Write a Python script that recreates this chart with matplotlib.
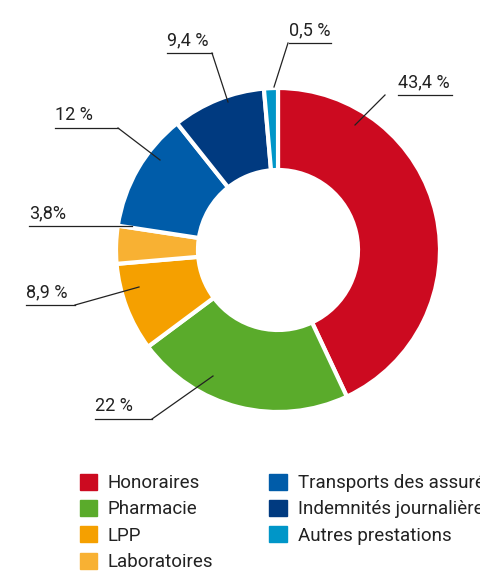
import matplotlib.pyplot as plt

plt.rcParams['font.family'] = ['Roboto', 'DejaVu Sans']

categories = ['Honoraires', 'Pharmacie', 'LPP', 'Laboratoires',
              'Transports des assurés', 'Indemnités journalières',
              'Autres prestations']
values = [43.4, 22, 8.9, 3.8, 12, 9.4, 0.5]
labels = ['43,4 %', '22 %', '8,9 %', '3,8%', '12 %', '9,4 %', '0,5 %']
colors = ['#cc0a20', '#5aab2b', '#f5a000', '#f8b133',
          '#005ca9', '#003a80', '#0096c8']

# leader lines in pixel coords: (text x, line y, line end x, knee x, anchor x, anchor y)
leaders = [
    (398, 95, 452, 385, 355, 125),
    (95, 419, 152, 152, 213, 376),
    (26, 305, 75, 75, 139, 287),
    (29, 226, 132, 132, 132, 226),
    (55, 128, 118, 118, 160, 160),
    (167, 53, 212, 212, 228, 102),
    (289, 43, 331, 288, 274, 87),
]

W, H = 480, 571
fig = plt.figure(figsize=(W / 100, H / 100), dpi=100)
ax = fig.add_axes([0, 0, 1, 1])


def py(y):
    return H - y


# tiny slices get a minimum visible width, like the original chart
draw_sizes = [max(v, 1.4) for v in values]

cx, cy, r_out, r_in = 278, 250, 162, 80
ax.pie(draw_sizes, colors=colors, startangle=90, counterclock=False,
       center=(cx, py(cy)), radius=r_out,
       wedgeprops=dict(width=r_out - r_in, edgecolor='white', linewidth=3))

for lab, (tx, ly, lx2, kx, ax_, ay) in zip(labels, leaders):
    ax.plot([tx, lx2], [py(ly), py(ly)], color='#222222', lw=0.9)
    ax.plot([kx, ax_], [py(ly), py(ay)], color='#222222', lw=0.9)
    ax.text(tx, py(ly) + 4, lab, fontsize=13, color='#222222',
            ha='left', va='bottom')

handles = [plt.Rectangle((0, 0), 1, 1, color=c) for c in colors]
fig.legend(handles, categories, ncol=2, loc='upper left',
           bbox_to_anchor=(72 / W, 1 - 466 / H), frameon=False,
           fontsize=13.5, handlelength=0.95, handleheight=0.95,
           handletextpad=0.55, labelspacing=0.42, columnspacing=3.0,
           labelcolor='#222222', borderaxespad=0)

ax.set_xlim(0, W)
ax.set_ylim(0, H)
ax.set_aspect('equal')
ax.axis('off')
fig.savefig('out.png', dpi=100)
